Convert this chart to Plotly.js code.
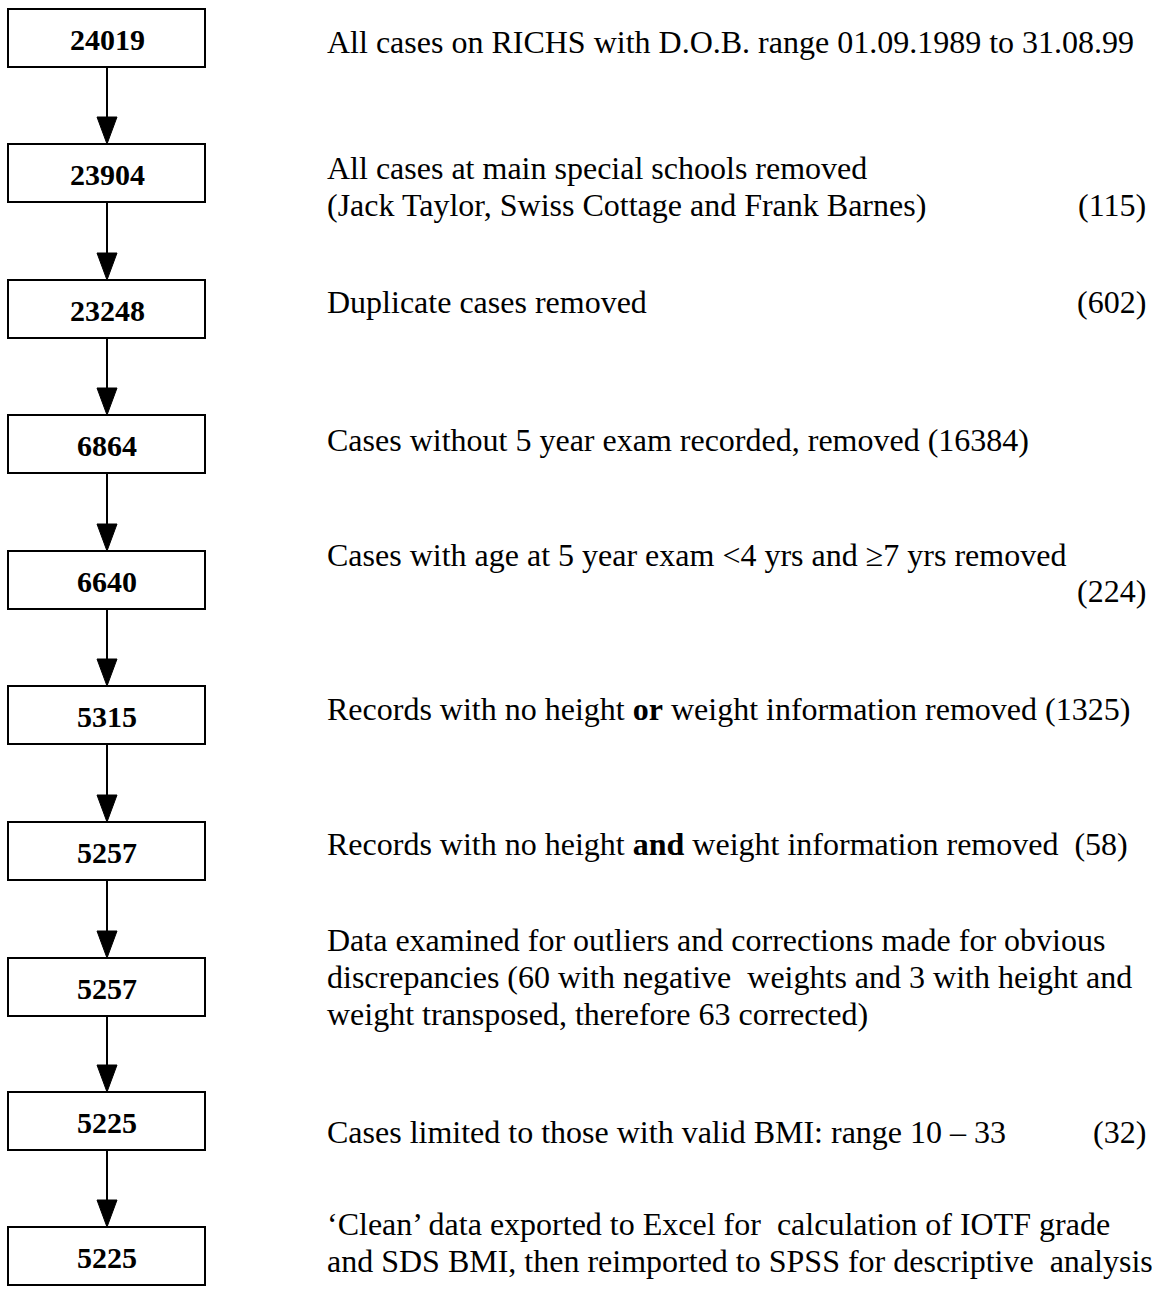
<!DOCTYPE html>
<html>
<head>
<meta charset="utf-8">
<script src="https://cdn.plot.ly/plotly-3.0.1.min.js"></script>
<style>html,body{margin:0;padding:0;background:#fff;}#chart{width:1152px;height:1299px;}</style>
</head>
<body>
<div id="chart"></div>
<script>
// ---- data ----
const counts = ['24019', '23904', '23248', '6864', '6640', '5315', '5257', '5257', '5225', '5225'];
const descriptions = [
  'All cases on RICHS with D.O.B. range 01.09.1989 to 31.08.99',
  'All cases at main special schools removed<br>(Jack Taylor, Swiss Cottage and Frank Barnes)',
  'Duplicate cases removed',
  'Cases without 5 year exam recorded, removed (16384)',
  'Cases with age at 5 year exam &lt;4 yrs and \u22657 yrs removed',
  'Records with no height <b>or</b> weight information removed (1325)',
  'Records with no height <b>and</b> weight information removed  (58)',
  'Data examined for outliers and corrections made for obvious<br>discrepancies (60 with negative  weights and 3 with height and<br>weight transposed, therefore 63 corrected)',
  'Cases limited to those with valid BMI: range 10 \u2013 33',
  '\u2018Clean\u2019 data exported to Excel for  calculation of IOTF grade<br>and SDS BMI, then reimported to SPSS for descriptive  analysis'
];
const removedCounts = ['', '(115)', '(602)', '', '(224)', '', '', '', '(32)', ''];

// ---- layout (positions, px) ----
const boxTop = [9, 144, 280, 415, 551, 686, 822, 958, 1092, 1227];
const boxH = 58, boxX0 = 8, boxX1 = 205, boxCx = 107;
const descY = [42, 186, 302, 440, 555, 709, 844, 977, 1132, 1242];
const removedY = [0, 205, 302, 0, 591, 0, 0, 0, 1132, 0];
const textX = 325, rightX = 1148, lineGap = 37;
const FONT = 'Liberation Serif, Times New Roman, serif';
const TXT = {family: FONT, size: 32, color: '#000'};

const shapes = [];
const annotations = [];
counts.forEach((c, i) => {
  const t = boxTop[i];
  shapes.push({type: 'rect', xref: 'x', yref: 'y', x0: boxX0, x1: boxX1, y0: t, y1: t + boxH,
    line: {color: '#000', width: 2}, fillcolor: 'rgba(0,0,0,0)'});
  annotations.push({x: boxCx, y: t + boxH / 2 + 1, xref: 'x', yref: 'y', text: '<b>' + c + '</b>',
    showarrow: false, xanchor: 'center', yanchor: 'middle',
    font: {family: FONT, size: 30, color: '#000'}});
  if (i < counts.length - 1) {
    const nt = boxTop[i + 1];
    shapes.push({type: 'line', xref: 'x', yref: 'y', x0: boxCx, x1: boxCx, y0: t + boxH, y1: nt - 26,
      line: {color: '#000', width: 2}});
    shapes.push({type: 'path', xref: 'x', yref: 'y',
      path: `M ${boxCx - 10} ${nt - 27} L ${boxCx + 10} ${nt - 27} L ${boxCx} ${nt} Z`,
      fillcolor: '#000', line: {color: '#000', width: 1}});
  }
  const lines = descriptions[i].split('<br>');
  lines.forEach((ln, k) => {
    annotations.push({x: textX, y: descY[i] + (k - (lines.length - 1) / 2) * lineGap, xref: 'x', yref: 'y',
      text: ln, showarrow: false, xanchor: 'left', yanchor: 'middle', align: 'left', font: TXT});
  });
  if (removedCounts[i]) {
    annotations.push({x: rightX, y: removedY[i], xref: 'x', yref: 'y', text: removedCounts[i],
      showarrow: false, xanchor: 'right', yanchor: 'middle', align: 'right', font: TXT});
  }
});

const layout = {
  width: 1152, height: 1299,
  margin: {l: 0, r: 0, t: 0, b: 0},
  paper_bgcolor: '#fff', plot_bgcolor: '#fff',
  showlegend: false,
  xaxis: {range: [0, 1152], visible: false, fixedrange: true},
  yaxis: {range: [1299, 0], visible: false, fixedrange: true},
  shapes: shapes,
  annotations: annotations
};
Plotly.newPlot('chart', [], layout, {staticPlot: true, displayModeBar: false});
</script>
</body>
</html>
